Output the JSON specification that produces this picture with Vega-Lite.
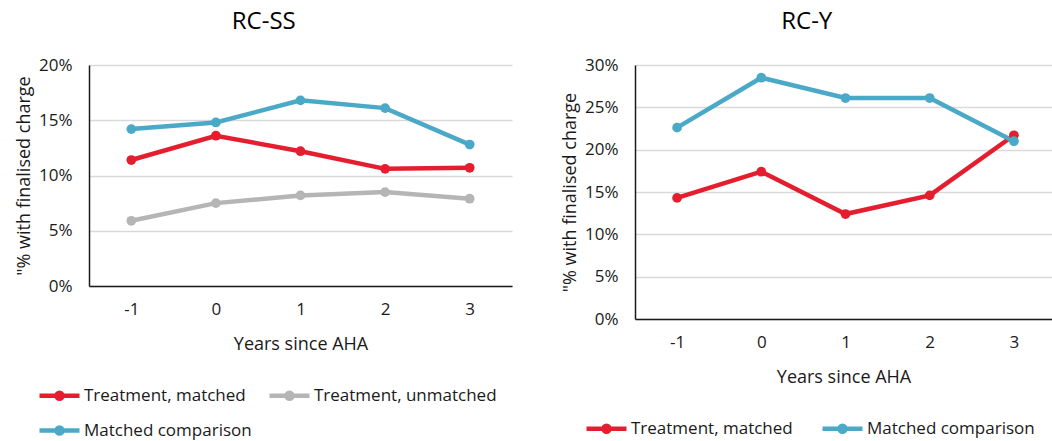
{
  "$schema": "https://vega.github.io/schema/vega-lite/v6.json",
  "background": "white",
  "padding": {"left": 15, "top": 10, "right": 0, "bottom": 0},
  "config": {
    "font": "Open Sans",
    "view": {"stroke": null},
    "concat": {"spacing": 49},
    "title": {"fontSize": 24, "fontWeight": "normal", "color": "#000000", "anchor": "middle", "frame": "bounds", "offset": 22},
    "axis": {
      "labelFont": "Open Sans",
      "titleFont": "Open Sans",
      "labelFontSize": 17,
      "titleFontSize": 18,
      "labelColor": "#1a1a1a",
      "titleColor": "#1a1a1a",
      "titleFontWeight": "normal",
      "ticks": false,
      "gridColor": "#d9d9d9",
      "gridWidth": 1.3,
      "domainColor": "#1a1a1a",
      "domainWidth": 1.5
    },
    "axisX": {"grid": false, "labelAngle": 0, "labelPadding": 15, "titlePadding": 18},
    "axisY": {"labelPadding": 17, "titlePadding": 5},
    "legend": {
      "padding": 0,
      "labelFont": "Open Sans",
      "labelFontSize": 17,
      "labelLimit": 0,
      "labelColor": "#1a1a1a",
      "labelOffset": 2,
      "symbolType": "M-1,0L1,0M0.15,0A0.15,0.15 0 1,1 -0.15,0A0.15,0.15 0 1,1 0.15,0",
      "symbolSize": 1600,
      "symbolStrokeWidth": 4.5,
      "rowPadding": -9
    }
  },
  "datasets": {
    "rates": [
      {"panel": "RC-SS", "series": "Treatment, matched", "year": -1, "value": 0.114},
      {"panel": "RC-SS", "series": "Treatment, matched", "year": 0, "value": 0.136},
      {"panel": "RC-SS", "series": "Treatment, matched", "year": 1, "value": 0.122},
      {"panel": "RC-SS", "series": "Treatment, matched", "year": 2, "value": 0.106},
      {"panel": "RC-SS", "series": "Treatment, matched", "year": 3, "value": 0.107},
      {"panel": "RC-SS", "series": "Treatment, unmatched", "year": -1, "value": 0.059},
      {"panel": "RC-SS", "series": "Treatment, unmatched", "year": 0, "value": 0.075},
      {"panel": "RC-SS", "series": "Treatment, unmatched", "year": 1, "value": 0.082},
      {"panel": "RC-SS", "series": "Treatment, unmatched", "year": 2, "value": 0.085},
      {"panel": "RC-SS", "series": "Treatment, unmatched", "year": 3, "value": 0.079},
      {"panel": "RC-SS", "series": "Matched comparison", "year": -1, "value": 0.142},
      {"panel": "RC-SS", "series": "Matched comparison", "year": 0, "value": 0.148},
      {"panel": "RC-SS", "series": "Matched comparison", "year": 1, "value": 0.168},
      {"panel": "RC-SS", "series": "Matched comparison", "year": 2, "value": 0.161},
      {"panel": "RC-SS", "series": "Matched comparison", "year": 3, "value": 0.128},
      {"panel": "RC-Y", "series": "Treatment, matched", "year": -1, "value": 0.143},
      {"panel": "RC-Y", "series": "Treatment, matched", "year": 0, "value": 0.174},
      {"panel": "RC-Y", "series": "Treatment, matched", "year": 1, "value": 0.124},
      {"panel": "RC-Y", "series": "Treatment, matched", "year": 2, "value": 0.146},
      {"panel": "RC-Y", "series": "Treatment, matched", "year": 3, "value": 0.217},
      {"panel": "RC-Y", "series": "Matched comparison", "year": -1, "value": 0.226},
      {"panel": "RC-Y", "series": "Matched comparison", "year": 0, "value": 0.285},
      {"panel": "RC-Y", "series": "Matched comparison", "year": 1, "value": 0.261},
      {"panel": "RC-Y", "series": "Matched comparison", "year": 2, "value": 0.261},
      {"panel": "RC-Y", "series": "Matched comparison", "year": 3, "value": 0.210}
    ]
  },
  "resolve": {"scale": {"color": "independent", "x": "independent", "y": "independent"}},
  "hconcat": [
    {
      "title": {"text": "RC-SS"},
      "width": 423,
      "height": 221,
      "data": {"name": "rates"},
      "transform": [{"filter": "datum.panel === 'RC-SS'"}],
      "mark": {"type": "line", "strokeWidth": 4.5, "point": {"filled": true, "size": 95}},
      "encoding": {
        "x": {
          "field": "year", "type": "ordinal", "title": "Years since AHA",
          "scale": {"type": "point", "padding": 0.5}
        },
        "y": {
          "field": "value", "type": "quantitative",
          "title": "\"% with finalised charge",
          "scale": {"domain": [0, 0.2]},
          "axis": {"values": [0, 0.05, 0.1, 0.15, 0.2], "format": ".0%"}
        },
        "color": {
          "field": "series", "type": "nominal",
          "scale": {
            "domain": ["Treatment, matched", "Treatment, unmatched", "Matched comparison"],
            "range": ["#e41e2e", "#b5b5b5", "#4ba9c8"]
          },
          "legend": {
            "title": null, "orient": "none", "legendX": -52, "legendY": 308,
            "direction": "horizontal", "columns": 2, "columnPadding": 8
          }
        }
      }
    },
    {
      "title": {"text": "RC-Y"},
      "width": 417,
      "height": 254,
      "data": {"name": "rates"},
      "transform": [{"filter": "datum.panel === 'RC-Y'"}],
      "mark": {"type": "line", "strokeWidth": 4.5, "point": {"filled": true, "size": 95}},
      "encoding": {
        "x": {
          "field": "year", "type": "ordinal", "title": "Years since AHA",
          "scale": {"type": "point", "padding": 0.476, "align": 0.525}
        },
        "y": {
          "field": "value", "type": "quantitative",
          "title": "\"% with finalised charge",
          "scale": {"domain": [0, 0.3]},
          "axis": {"values": [0, 0.05, 0.1, 0.15, 0.2, 0.25, 0.3], "format": ".0%"}
        },
        "color": {
          "field": "series", "type": "nominal",
          "scale": {
            "domain": ["Treatment, matched", "Matched comparison"],
            "range": ["#e41e2e", "#4ba9c8"]
          },
          "legend": {
            "title": null, "orient": "none", "legendX": -51, "legendY": 341,
            "direction": "horizontal", "columns": 2, "columnPadding": 20
          }
        }
      }
    }
  ]
}
